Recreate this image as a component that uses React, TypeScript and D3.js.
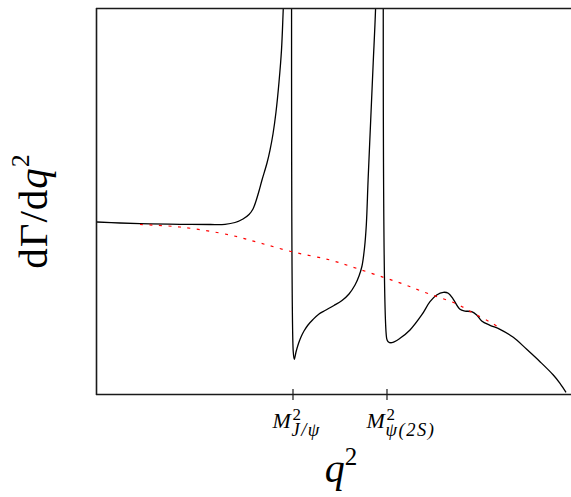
import React from 'react';
import * as d3 from 'd3';

const WIDTH = 571;
const HEIGHT = 497;
const PLOT = { left: 97, right: 571, top: 8, bottom: 394 };

// Differential rate including charmonium resonances (arbitrary units) vs q^2 (GeV^2)
const q2Full = [
  1.25, 2.229, 3.505, 4.782, 6.059, 6.697, 7.122, 7.463, 7.718, 7.888, 8.016, 8.144,
  8.271, 8.484, 8.612, 8.739, 8.867, 8.995, 9.101, 9.178, 9.25, 9.35, 9.5, 9.585,
  9.6, 9.646, 9.718, 9.824, 9.931, 10.058, 10.229, 10.441, 10.697, 10.952, 11.335,
  11.675, 11.973, 12.229, 12.399, 12.526, 12.633, 12.71, 12.786, 12.897, 13.003,
  13.105, 13.25, 13.45, 13.57, 13.58, 13.64, 13.79,
  14.143, 14.569, 15.067, 15.42, 15.705, 15.986, 16.199, 16.412, 16.697, 16.909,
  17.195, 17.407, 17.62, 17.973, 18.399, 18.965, 19.535, 20.101, 20.667, 20.952, 21.208,
];
const rateFull = [
  44.56, 44.3, 44.09, 43.96, 43.91, 43.96, 44.43, 45.34, 46.5, 47.93, 50.0, 52.59,
  55.44, 59.85, 63.21, 67.36, 73.06, 80.83, 89.12, 100, 109.8, 130, 200, 320,
  11.0, 8.99, 10.88, 13.08, 14.77, 16.32, 17.88, 19.3, 20.73, 21.63, 22.93,
  24.22, 25.91, 28.24, 30.57, 33.16, 37.82, 43.78, 55.44, 70.99, 85.75,
  100, 135, 230, 330, 14.3, 13.55, 13.29,
  14.43, 16.58, 20.47, 23.91, 25.65, 26.35, 26.09, 24.53, 21.94, 21.5,
  21.32, 20.47, 18.91, 17.8, 16.76, 14.69, 11.58, 8.37, 4.92, 2.77, 0.44,
];

// Non-resonant (short-distance) contribution
const q2Smooth = [
  3.08, 4.782, 6.91, 8.186, 9.59, 11.165, 12.314, 13.463, 14.271, 14.995, 15.761,
  16.569, 17.25, 17.973, 18.399,
];
const rateSmooth = [
  43.91, 43.26, 41.19, 39.12, 36.79, 34.72, 32.51, 30.18, 28.5, 26.8, 25.13,
  23.32, 20.98, 18.65, 17.1,
];

// Resonance positions M^2 (GeV^2) and their names
const resonanceM2 = [9.59, 13.59];
const resonanceNames = ['J/ψ', 'ψ(2S)'];

const SERIF = '"Liberation Serif", "DejaVu Serif", serif';

export default function App() {
  const x = d3.scaleLinear().domain([1.25, 21.42]).range([PLOT.left, PLOT.right]);
  const y = d3.scaleLinear().domain([0, 100]).range([PLOT.bottom, PLOT.top]);
  const line = d3
    .line<[number, number]>()
    .x((d) => x(d[0]))
    .y((d) => y(d[1]))
    .curve(d3.curveCatmullRom.alpha(0.5));

  const fullPath = line(q2Full.map((q, i) => [q, rateFull[i]] as [number, number])) || '';
  const smoothPath = line(q2Smooth.map((q, i) => [q, rateSmooth[i]] as [number, number])) || '';

  const axisColor = '#1a1a1a';

  return (
    <div style={{ position: 'absolute', left: 0, top: 0 }}>
      <svg width={WIDTH} height={HEIGHT} style={{ display: 'block', background: '#fff' }}>
        <defs>
          <clipPath id="plot-area">
            <rect
              x={PLOT.left}
              y={PLOT.top}
              width={PLOT.right - PLOT.left}
              height={PLOT.bottom - PLOT.top}
            />
          </clipPath>
        </defs>
        <rect width={WIDTH} height={HEIGHT} fill="#fff" />

        <g clipPath="url(#plot-area)">
          <path d={fullPath} fill="none" stroke="#000" strokeWidth={1.3} strokeLinejoin="round" />
          <path
            d={smoothPath}
            fill="none"
            stroke="#ff0000"
            strokeWidth={1.2}
            strokeDasharray="3 6.5"
          />
        </g>

        {/* frame: left, top and bottom spines */}
        <line x1={96.5} x2={96.5} y1={PLOT.top} y2={PLOT.bottom + 1} stroke={axisColor} strokeWidth={1.6} />
        <line x1={96} x2={WIDTH} y1={PLOT.top + 0.5} y2={PLOT.top + 0.5} stroke={axisColor} strokeWidth={1.6} />
        <line x1={96} x2={WIDTH} y1={PLOT.bottom + 0.5} y2={PLOT.bottom + 0.5} stroke={axisColor} strokeWidth={1.6} />

        {/* resonance ticks and labels */}
        {resonanceM2.map((m2, i) => {
          const tx = x(m2);
          return (
            <g key={i} fontFamily={SERIF} fill="#000">
              <line x1={tx} x2={tx} y1={389} y2={400} stroke={axisColor} strokeWidth={1.2} />
              <text x={tx - 20.5} y={428} fontSize={22} fontStyle="italic">
                M
                <tspan x={tx - 0.5} y={420} fontSize={17} fontStyle="normal">2</tspan>
                <tspan x={tx - 1.5} y={436} fontSize={18.5} letterSpacing={1.5}>
                  {resonanceNames[i]}
                </tspan>
              </text>
            </g>
          );
        })}

        {/* x-axis title */}
        <text x={341} y={482} textAnchor="middle" fontFamily={SERIF} fontSize={40} fill="#000">
          <tspan fontStyle="italic">q</tspan>
          <tspan fontSize={25} dy={-17}>2</tspan>
        </text>

        {/* y-axis title */}
        <text
          transform="translate(47, 211) rotate(-90)"
          textAnchor="middle"
          fontFamily={SERIF}
          fontSize={41}
          fill="#000"
          letterSpacing={1}
        >
          <tspan>dΓ/d</tspan>
          <tspan fontStyle="italic">q</tspan>
          <tspan fontSize={26} dy={-18}>2</tspan>
        </text>
      </svg>
    </div>
  );
}
